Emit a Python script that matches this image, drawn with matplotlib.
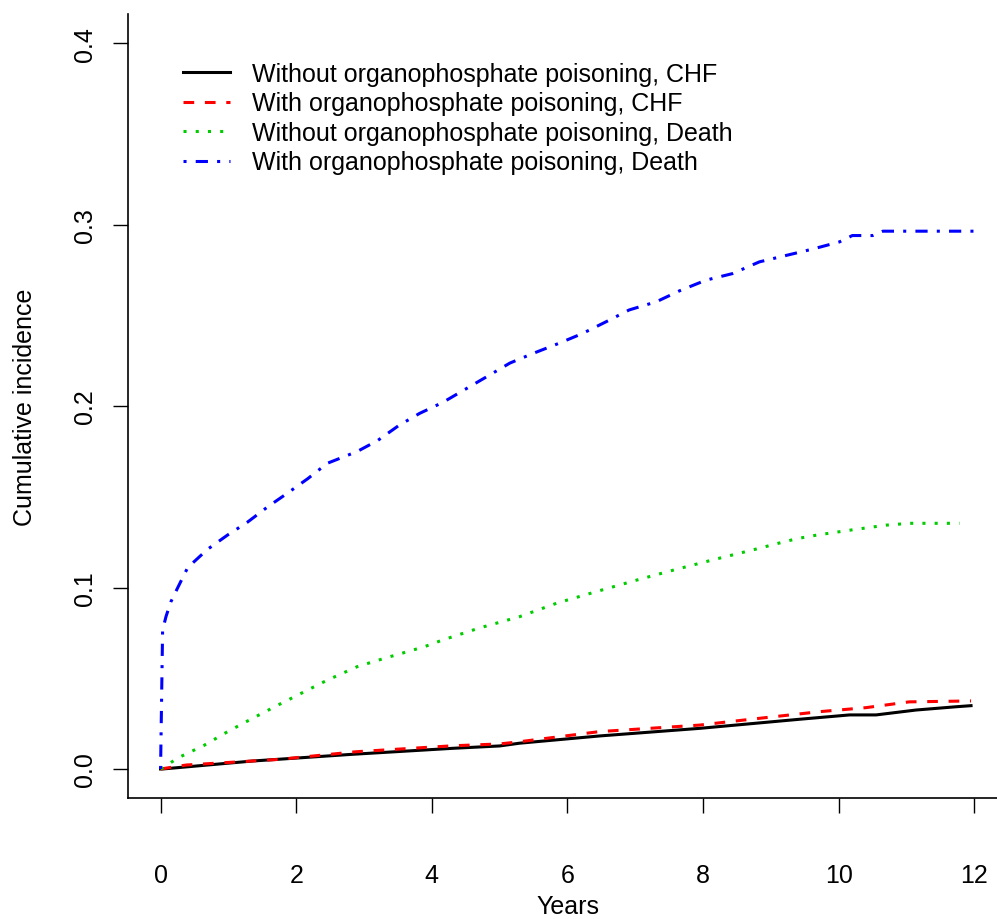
"""Cumulative incidence of CHF and death, with / without organophosphate poisoning."""

import matplotlib
matplotlib.use("Agg")
import matplotlib.pyplot as plt

plt.rcParams["font.family"] = ["Liberation Sans", "DejaVu Sans"]

# ──────────────────────────────────────────────
#  Données (années, incidence cumulée)
# ──────────────────────────────────────────────

t_chf_without = [0.0, 0.03, 1.36, 2.83, 4.31, 5.0, 5.29, 6.47, 7.95, 9.42, 10.16, 10.55, 11.14, 11.73, 11.95]
v_chf_without = [0.0, 0.0, 0.0044, 0.0081, 0.0114, 0.0127, 0.0142, 0.0182, 0.0224, 0.0274, 0.0298, 0.0298, 0.0325, 0.0343, 0.0349]

t_chf_with = [0.0, 0.38, 1.75, 2.88, 4.31, 5.0, 5.29, 6.47, 7.95, 8.7, 9.72, 10.4, 11.04, 11.95]
v_chf_with = [0.0, 0.0022, 0.0053, 0.0095, 0.0128, 0.0138, 0.015, 0.0206, 0.0242, 0.0274, 0.0316, 0.0338, 0.037, 0.0375]

t_death_without = [0.0, 0.05, 0.25, 0.64, 0.99, 1.36, 1.72, 2.12, 2.46, 2.9, 3.3, 3.57, 3.89, 4.16, 4.7,
                   5.29, 5.85, 6.42, 7.01, 7.6, 8.19, 8.78, 9.12, 9.39, 9.69, 10.18, 10.7, 11.04, 11.78]
v_death_without = [0.0, 0.001, 0.006, 0.013, 0.0206, 0.028, 0.035, 0.0426, 0.049, 0.0564, 0.061, 0.0639, 0.0674,
                   0.0711, 0.0777, 0.0839, 0.0915, 0.0977, 0.104, 0.110, 0.1157, 0.1212, 0.1245, 0.127, 0.129,
                   0.1317, 0.1344, 0.1354, 0.1354]

t_death_with = [0.0, 0.0, 0.03, 0.08, 0.15, 0.25, 0.4, 0.545, 0.69, 0.99, 1.28, 1.58, 1.87, 2.17, 2.46, 2.9,
                3.2, 3.52, 3.82, 4.16, 4.48, 4.8, 5.15, 5.49, 5.88, 6.22, 6.57, 6.91, 7.31, 7.65, 8.04, 8.43,
                8.83, 9.22, 9.61, 10.01, 10.2, 10.5, 10.65, 12.0]
v_death_with = [0.0, 0.0, 0.0766, 0.084, 0.092, 0.0997, 0.111, 0.116, 0.121, 0.129, 0.136, 0.1445, 0.152, 0.160,
                0.1685, 0.175, 0.181, 0.1895, 0.196, 0.202, 0.209, 0.216, 0.2237, 0.229, 0.2347, 0.240, 0.2465,
                0.253, 0.2575, 0.2635, 0.2694, 0.273, 0.2795, 0.283, 0.2865, 0.2905, 0.294, 0.294, 0.2964, 0.2964]

labels = ["Without organophosphate poisoning, CHF",
          "With organophosphate poisoning, CHF",
          "Without organophosphate poisoning, Death",
          "With organophosphate poisoning, Death"]

x_ticks = [0, 2, 4, 6, 8, 10, 12]
y_ticks = [0.0, 0.1, 0.2, 0.3, 0.4]

# ──────────────────────────────────────────────
#  Figure (style R base, bty="l")
# ──────────────────────────────────────────────

fig = plt.figure(figsize=(9.97, 9.2), dpi=100)
ax = fig.add_axes([0.1284, 0.1315, 0.8816, 0.852])

lw = 2.2
ax.plot(t_chf_without, v_chf_without, color="black", lw=lw, label=labels[0])
ax.plot(t_chf_with, v_chf_with, color="red", lw=lw, dashes=(3.5, 3.5), label=labels[1])
ax.plot(t_death_without, v_death_without, color="#00cc00", lw=lw, dashes=(1, 3), label=labels[2])
ax.plot(t_death_with, v_death_with, color="blue", lw=lw, dashes=(1, 3, 4, 3), label=labels[3])

ax.set_xlim(-0.48, 12.48)
ax.set_ylim(-0.016, 0.416)
ax.set_xticks(x_ticks)
ax.set_yticks(y_ticks)
ax.set_xticklabels([str(v) for v in x_ticks])
ax.set_yticklabels([f"{v:.1f}" for v in y_ticks], rotation=90, va="center")

for side in ("top", "right"):
    ax.spines[side].set_visible(False)
for side in ("left", "bottom"):
    ax.spines[side].set_linewidth(1.2)

ax.tick_params(axis="both", length=10.5, width=1.0, labelsize=18)
ax.tick_params(axis="x", pad=36)
ax.tick_params(axis="y", pad=12)

ax.set_xlabel("Years", fontsize=18, labelpad=5.5)
ax.set_ylabel("Cumulative incidence", fontsize=18, labelpad=25.5)

ax.legend(loc="upper left", bbox_to_anchor=(0.0507, 0.952), frameon=False, fontsize=18,
          handlelength=1.88, handletextpad=0.88, labelspacing=0.22, borderaxespad=0)

fig.savefig("out.png", dpi=100)
plt.close(fig)
